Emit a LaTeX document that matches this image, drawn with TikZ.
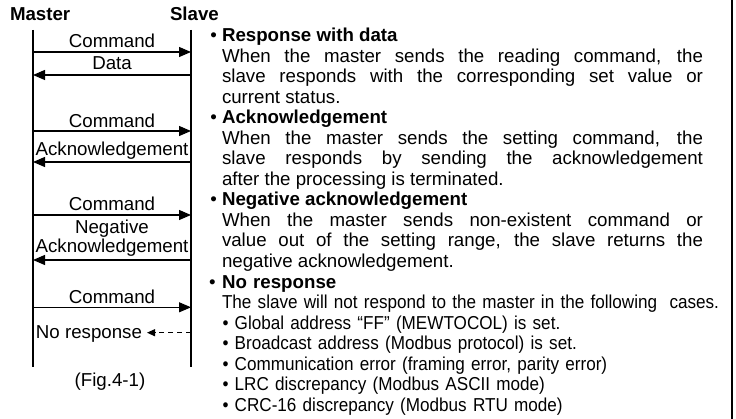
\documentclass[tikz,border=0pt]{standalone}
\usepackage{fontspec}
\setmainfont{Liberation Sans}
\newfontfamily\condensed[FakeStretch=0.915]{Liberation Sans}
\usetikzlibrary{arrows.meta}
\begin{document}
\begin{tikzpicture}[x=1pt,y=-1pt,
  txt/.style={font=\fontsize{18.7}{20.53}\selectfont, inner sep=0pt, outer sep=0pt},
  title/.style={txt, font=\fontsize{18.7}{20.53}\selectfont\bfseries, anchor=base west},
  life/.style={line width=1.1pt},
  msg/.style={line width=1.1pt, -{Triangle[length=12pt,width=10pt]}},
  nomsg/.style={line width=1.1pt, dash pattern=on 5pt off 4pt, -{Triangle[length=8pt,width=7pt]}},
  lbl/.style={txt, anchor=base},
  para/.style={txt, anchor=base west, text width=481pt, align=justify},
  border/.style={line width=2.5pt}
]
\useasboundingbox (0,0) rectangle (736,419);
% headers
\node[title] (master) at (10,20.7) {Master};
\node[title] (slave) at (170,20.7) {Slave};
% lifelines
\coordinate (mtop) at (33,30); \coordinate (mbot) at (33,367);
\coordinate (stop) at (191,30); \coordinate (sbot) at (191,367);
\draw[life] (mtop) -- (mbot);
\draw[life] (stop) -- (sbot);
\foreach \i/\y in {1/52,2/75,3/131,4/162,5/215,6/260,7/307.3,8/332.7}{
  \coordinate (m\i) at (33,\y); \coordinate (s\i) at (191,\y);}
% messages
\draw[msg] (m1) -- (s1) node[lbl, midway, yshift=4.4pt] {Command};
\draw[msg] (s2) -- (m2) node[lbl, midway, yshift=5pt] {Data};
\draw[msg] (m3) -- (s3) node[lbl, midway, yshift=3.5pt] {Command};
\draw[msg] (s4) -- (m4) node[lbl, midway, yshift=6pt] {Acknowledgement};
\draw[msg] (m5) -- (s5) node[lbl, midway, yshift=4pt] {Command};
\draw[msg] (s6) -- (m6) node[lbl, midway, yshift=26pt, text width=170pt, align=center,
  font=\fontsize{18.7}{18.7}\selectfont] {Negative\\Acknowledgement};
\draw[msg] (m7) -- (s7) node[lbl, midway, yshift=4pt] {Command};
\node[txt, anchor=base east] (nr) at (142,338.3) {No response};
\path (nr.east |- s8) ++(5,0) coordinate (nrend);
\draw[nomsg] (s8) -- (nrend);
\node[lbl] (fig) at (110,386.7) {(Fig.4-1)};
% descriptions
\node[para] (sec1) at (222,41.7) {\llap{•\ }\textbf{Response with data}\\
When the master sends the reading command, the\linebreak
slave responds with the corresponding set value or\linebreak
current status.};
\node[para] (sec2) at (222,123.8) {\llap{•\ }\textbf{Acknowledgement}\\
When the master sends the setting command, the\linebreak
slave responds by sending the acknowledgement\linebreak
after the processing is terminated.};
\node[para] (sec3) at (222,205.9) {\llap{•\ }\textbf{Negative acknowledgement}\\
When the master sends non-existent command or\linebreak
value out of the setting range, the slave returns the\linebreak
negative acknowledgement.};
\node[txt, anchor=base west, text width=600pt, align=left] (sec4) at (222,288.1) {\llap{•\ }\textbf{No response}\\
\condensed The slave will not respond to the master in the following\ \ cases.\\
\hspace*{0.5pt}• Global address “FF” (MEWTOCOL) is set.\\
\hspace*{0.5pt}• Broadcast address (Modbus protocol) is set.\\
\hspace*{0.5pt}• Communication error (framing error, parity error)\\
\hspace*{0.5pt}• LRC discrepancy (Modbus ASCII mode)\\
\hspace*{0.5pt}• CRC-16 discrepancy (Modbus RTU mode)};
% right border
\coordinate (btop) at (732,0); \coordinate (bbot) at (732,419);
\draw[border] (btop) -- (bbot);
\end{tikzpicture}
\end{document}
